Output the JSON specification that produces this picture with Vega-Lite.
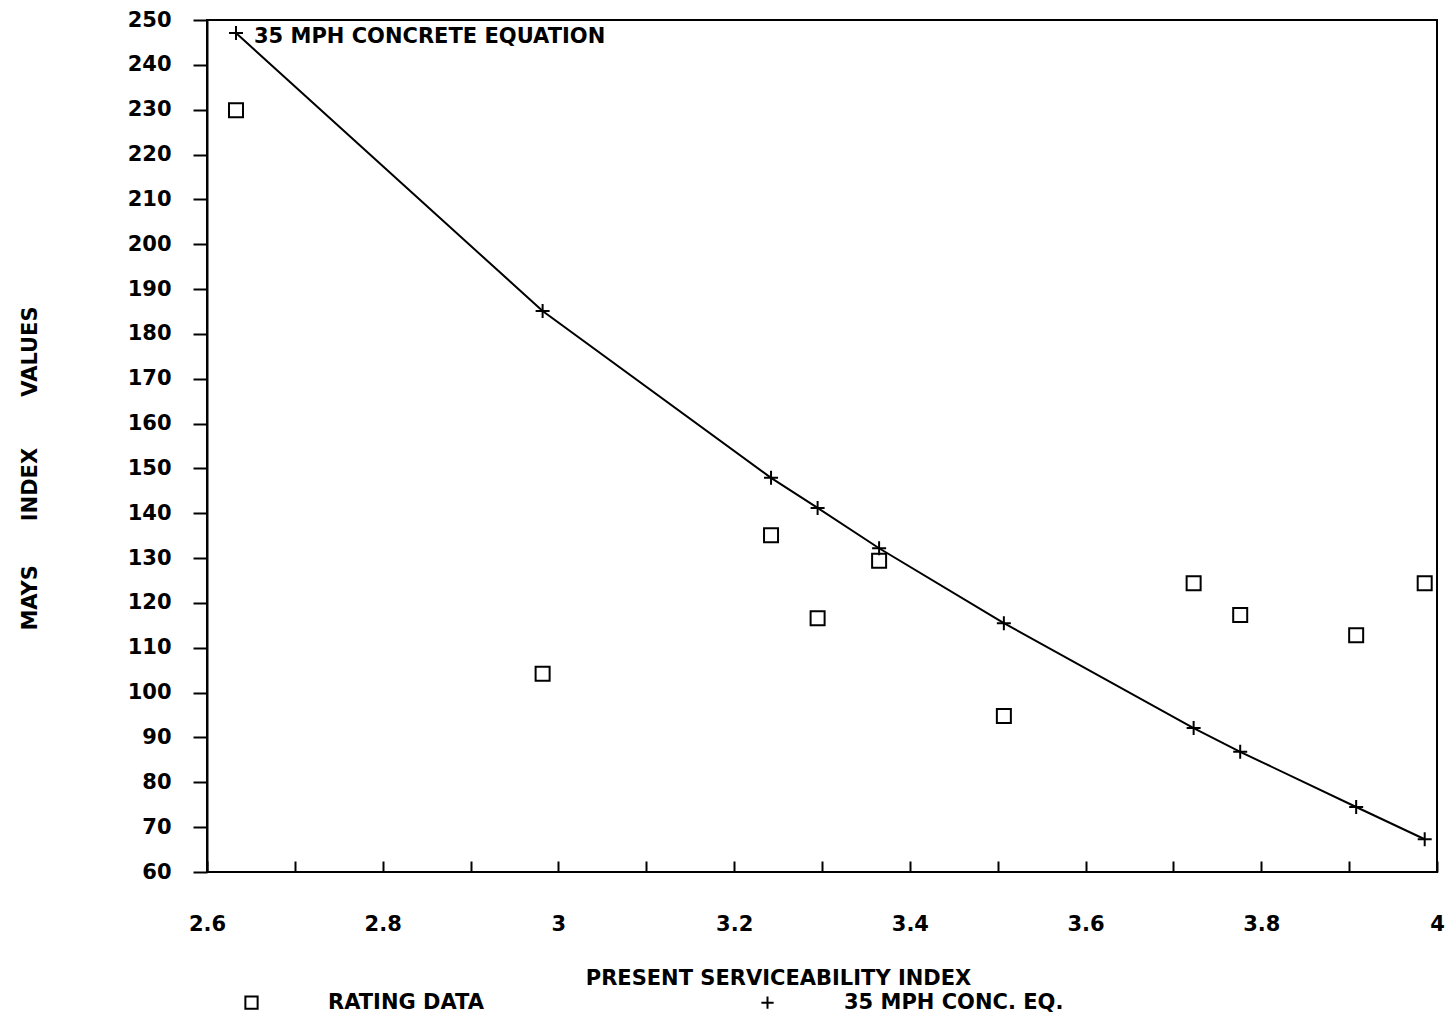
{
  "$schema": "https://vega.github.io/schema/vega-lite/v6.json",
  "width": 1230,
  "height": 852,
  "autosize": "none",
  "padding": {"left": 207, "top": 20, "right": 12, "bottom": 153},
  "background": "white",
  "config": {
    "view": {"stroke": "black", "strokeWidth": 2},
    "font": "DejaVu Sans",
    "axis": {"grid": false, "labelFont": "DejaVu Sans", "labelFontWeight": "bold", "labelFontSize": 21, "labelColor": "black", "titleFont": "DejaVu Sans", "titleFontWeight": "bold", "titleFontSize": 21, "titleColor": "black", "tickColor": "black", "domainColor": "black", "labelFlush": false, "labelOverlap": false, "labelBound": false}
  },
  "data": {
    "values": [
      {"psi": 2.633, "rating": 229.9, "eq": 247.1},
      {"psi": 2.982, "rating": 104.2, "eq": 185.1},
      {"psi": 3.242, "rating": 135.1, "eq": 147.9},
      {"psi": 3.295, "rating": 116.6, "eq": 141.2},
      {"psi": 3.365, "rating": 129.4, "eq": 132.2},
      {"psi": 3.507, "rating": 94.8, "eq": 115.5},
      {"psi": 3.723, "rating": 124.4, "eq": 92.1},
      {"psi": 3.776, "rating": 117.3, "eq": 86.8},
      {"psi": 3.908, "rating": 112.8, "eq": 74.5},
      {"psi": 3.986, "rating": 124.4, "eq": 67.3}
    ]
  },
  "encoding": {
    "x": {
      "field": "psi", "type": "quantitative",
      "scale": {"domain": [2.6, 4], "nice": false, "zero": false},
      "axis": {
        "title": "PRESENT SERVICEABILITY INDEX",
        "titleX": 571,
        "values": [2.6, 2.7, 2.8, 2.9, 3.0, 3.1, 3.2, 3.3, 3.4, 3.5, 3.6, 3.7, 3.8, 3.9, 4.0],
        "labelExpr": "round(datum.value*10) % 2 == 0 ? toString(round(datum.value*10)/10) : ''",
        "domain": false,
        "tickSize": -11,
        "tickWidth": 2,
        "labelPadding": 52,
        "titlePadding": 33
      }
    }
  },
  "layer": [
    {
      "mark": {"type": "line", "color": "black", "strokeWidth": 2},
      "encoding": {
        "y": {
          "field": "eq", "type": "quantitative",
          "scale": {"domain": [60, 250], "nice": false, "zero": false},
          "axis": {
            "title": "MAYS\u00a0\u00a0\u00a0\u00a0\u00a0\u00a0INDEX\u00a0\u00a0\u00a0\u00a0\u00a0\u00a0\u00a0VALUES",
            "titleY": 448,
            "values": [60, 70, 80, 90, 100, 110, 120, 130, 140, 150, 160, 170, 180, 190, 200, 210, 220, 230, 240, 250],
            "domainWidth": 2,
            "tickSize": 14,
            "tickWidth": 2,
            "labelPadding": 22,
            "titlePadding": 87
          }
        }
      }
    },
    {
      "mark": {"type": "point", "filled": false, "color": "black", "strokeWidth": 2, "size": 196, "opacity": 1},
      "encoding": {
        "y": {"field": "eq", "type": "quantitative"},
        "shape": {
          "datum": "35 MPH CONC. EQ.",
          "scale": {"domain": ["RATING DATA", "35 MPH CONC. EQ."], "range": ["square", "M-1,0L1,0M0,-1L0,1"]},
          "legend": {
            "title": null,
            "orient": "none",
            "direction": "horizontal",
            "legendX": 34,
            "legendY": 972,
            "labelFont": "DejaVu Sans",
            "labelFontWeight": "bold",
            "labelFontSize": 21,
            "labelColor": "black",
            "labelLimit": 0,
            "labelOffset": 66,
            "columnPadding": 272,
            "symbolSize": 150,
            "symbolStrokeColor": "black",
            "symbolFillColor": "transparent",
            "symbolStrokeWidth": 2
          }
        }
      }
    },
    {
      "mark": {"type": "point", "filled": false, "color": "black", "strokeWidth": 2, "size": 196, "opacity": 1},
      "encoding": {
        "y": {"field": "rating", "type": "quantitative"},
        "shape": {"datum": "RATING DATA"}
      }
    },
    {
      "transform": [{"filter": "datum.psi < 2.7"}],
      "mark": {"type": "text", "text": "35 MPH CONCRETE EQUATION", "align": "left", "baseline": "middle", "dx": 18, "dy": 4, "font": "DejaVu Sans", "fontWeight": "bold", "fontSize": 21, "color": "black"},
      "encoding": {
        "y": {"field": "eq", "type": "quantitative"}
      }
    }
  ]
}
